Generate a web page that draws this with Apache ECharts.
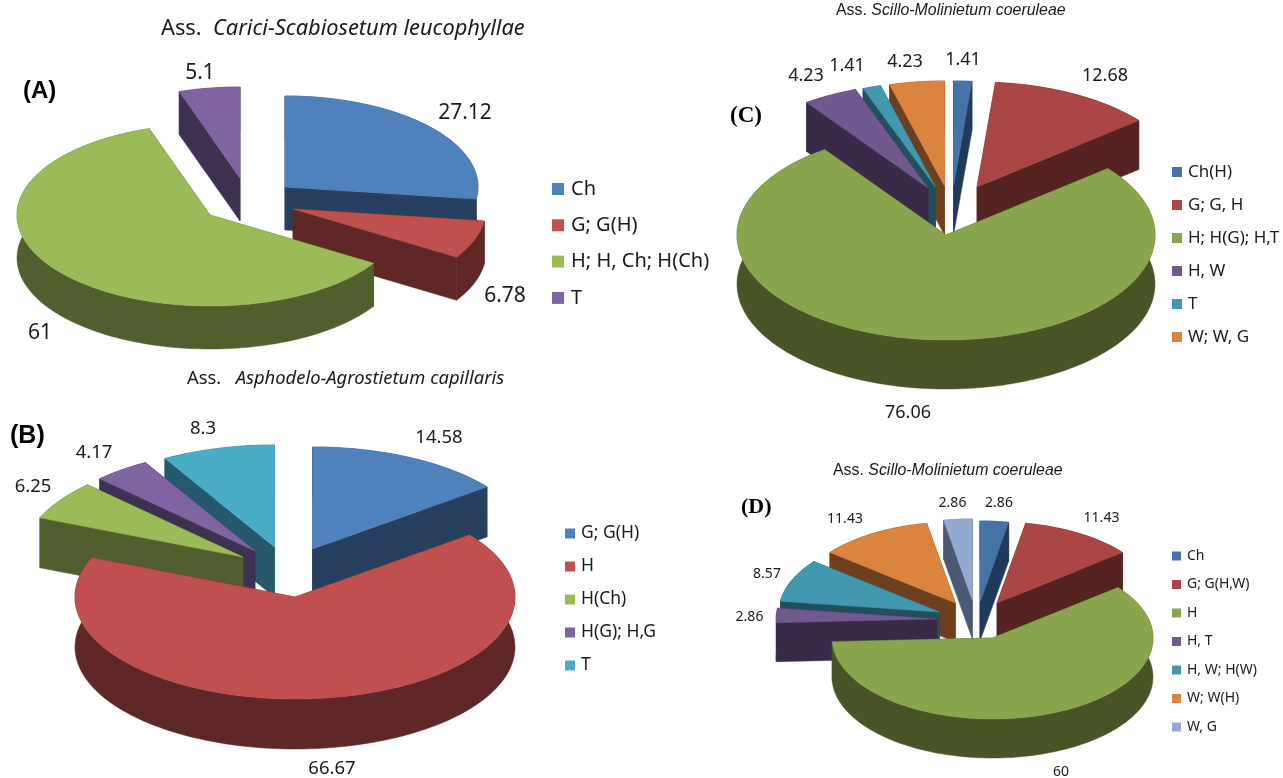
<!DOCTYPE html>
<html>
<head>
<meta charset="utf-8">
<style>html,body{margin:0;padding:0;background:#fff}#chart{width:1283px;height:778px}</style>
<script src="https://cdn.jsdelivr.net/npm/echarts@6/dist/echarts.min.js"></script>
</head>
<body>
<div id="chart"></div>
<script>
// Life-form spectra of four plant associations, drawn as extruded exploded pies.
const categoriesA = ['Ch', 'G; G(H)', 'H; H, Ch; H(Ch)', 'T'];
const valuesA = [27.12, 6.78, 61, 5.1];
const categoriesB = ['G; G(H)', 'H', 'H(Ch)', 'H(G); H,G', 'T'];
const valuesB = [14.58, 66.67, 6.25, 4.17, 8.3];
const categoriesC = ['Ch(H)', 'G; G, H', 'H; H(G); H,T', 'H, W', 'T', 'W; W, G'];
const valuesC = [1.41, 12.68, 76.06, 4.23, 1.41, 4.23];
const categoriesD = ['Ch', 'G; G(H,W)', 'H', 'H, T', 'H, W; H(W)', 'W; W(H)', 'W, G'];
const valuesD = [2.86, 11.43, 60, 2.86, 8.57, 11.43, 2.86];

const SANS = '"Noto Sans"';
const ARIAL = '"Liberation Sans"';
const SERIF = '"Liberation Serif"';

// Geometry and colours of each pie; "apex" is where every exploded wedge has its tip.
const pies = [
  {
    categories: categoriesA, values: valuesA,
    rx: 193, ry: 91, depth: 43,
    apex: [[285, 187], [293, 209], [210, 215], [240, 178]],
    order: [3, 0, 1, 2],
    top: ['#4F81BD', '#C0504D', '#9BBB59', '#8064A2'],
    side: ['#27405F', '#602727', '#505F2D', '#3F3152'],
    labelPos: [[465, 113], [505, 296], [40, 333], [200, 73]],
    labelFont: '21px ' + SANS,
    legend: { left: 552, top: 179, mark: 12, gap: 16.3, font: 20, textGap: 2 }
  },
  {
    categories: categoriesB, values: valuesB,
    rx: 220, ry: 102, depth: 50,
    apex: [[312.5, 549], [295, 597], [243, 557], [255, 551], [274.5, 547]],
    order: [4, 3, 2, 0, 1],
    top: ['#4F81BD', '#C0504D', '#9BBB59', '#8064A2', '#4BACC6'],
    side: ['#27405F', '#602727', '#505F2D', '#3F3152', '#25586A'],
    labelPos: [[439, 438], [332, 769], [33, 487], [94, 453], [203, 429]],
    labelFont: '18.5px ' + SANS,
    legend: { left: 565, top: 524.5, mark: 10, gap: 15, font: 17.5, textGap: 1 }
  },
  {
    categories: categoriesC, values: valuesC,
    rx: 209, ry: 105, depth: 49,
    apex: [[953.5, 186], [977, 187], [946, 235], [928, 188], [935.5, 187], [944.5, 186]],
    order: [5, 4, 3, 0, 1, 2],
    top: ['#4572A7', '#AA4643', '#89A54E', '#71588F', '#4198AF', '#DB843D'],
    side: ['#1F3A5C', '#552322', '#485326', '#3A2A4A', '#224F5C', '#6E3F1E'],
    labelPos: [[963, 60], [1105, 76], [908, 413], [806, 76], [847, 66], [905, 62]],
    labelFont: '18px ' + SANS,
    legend: { left: 1172, top: 163.5, mark: 10, gap: 16, font: 17, textGap: 1 }
  },
  {
    categories: categoriesD, values: valuesD,
    rx: 160.5, ry: 81, depth: 39,
    apex: [[980, 602], [997, 603], [992.5, 638], [936.6, 619], [939.5, 612], [955.4, 603], [972.3, 600]],
    order: [6, 5, 4, 3, 0, 1, 2],
    top: ['#4572A7', '#AA4643', '#89A54E', '#71588F', '#4198AF', '#DB843D', '#93A9CF'],
    side: ['#1F3A5C', '#552322', '#485326', '#3A2A4A', '#224F5C', '#6E3F1E', '#4A5A72'],
    labelPos: [[999, 503], [1101.5, 518], [1061, 772], [749.5, 617], [767, 574], [845, 519], [952.5, 503]],
    labelFont: '14px ' + SANS,
    legend: { left: 1172, top: 549, mark: 9, gap: 14.5, font: 14, textGap: 1 }
  }
];

// Point on the rim of an elliptical pie, angle in degrees clockwise from twelve o'clock.
function rimPoint(apex, pie, deg, drop) {
  const a = deg * Math.PI / 180;
  return [apex[0] + pie.rx * Math.sin(a), apex[1] - pie.ry * Math.cos(a) + drop];
}

function rimArc(apex, pie, from, to, drop) {
  const n = Math.max(2, Math.ceil((to - from) / 1.5));
  const pts = [];
  for (let i = 0; i <= n; i++) pts.push(rimPoint(apex, pie, from + (to - from) * i / n, drop));
  return pts;
}

function wedgeRender(pie, idx) {
  return function (params, api) {
    const value = api.value(0);
    const total = pie.values.reduce((s, v) => s + v, 0);
    const before = pie.values.slice(0, idx).reduce((s, v) => s + v, 0);
    const from = before / total * 360;
    const to = (before + value) / total * 360;
    const apex = pie.apex[idx];
    const d = pie.depth;
    const top = rimArc(apex, pie, from, to, 0);
    const low = rimArc(apex, pie, from, to, d);
    const wallStyle = { fill: pie.side[idx], stroke: pie.side[idx], lineWidth: 0.5 };
    const poly = (points, style) => ({ type: 'polygon', shape: { points }, style });
    const lowApex = [apex[0], apex[1] + d];
    const children = [
      poly([apex, top[0], low[0], lowApex], wallStyle),
      poly([apex, top[top.length - 1], low[low.length - 1], lowApex], wallStyle),
      poly(top.concat(low.slice().reverse()), wallStyle),
      poly([apex].concat(top), { fill: pie.top[idx], stroke: pie.top[idx], lineWidth: 0.5 }),
      {
        type: 'text',
        z2: 50,
        style: {
          text: String(value),
          x: pie.labelPos[idx][0],
          y: pie.labelPos[idx][1],
          align: 'center',
          verticalAlign: 'middle',
          font: pie.labelFont,
          fill: '#1a1a1a'
        }
      }
    ];
    return { type: 'group', children };
  };
}

const series = [];
const legends = [];
pies.forEach(pie => {
  pie.order.forEach(idx => {
    series.push({
      type: 'custom',
      name: pie.categories[idx],
      coordinateSystem: 'none',
      silent: true,
      renderItem: wedgeRender(pie, idx),
      data: [[pie.values[idx]]]
    });
  });
  legends.push({
    orient: 'vertical',
    left: pie.legend.left,
    top: pie.legend.top,
    icon: 'rect',
    itemWidth: pie.legend.mark,
    itemHeight: pie.legend.mark,
    itemGap: pie.legend.gap,
    selectedMode: false,
    padding: 0,
    textStyle: { fontFamily: SANS, fontSize: pie.legend.font, color: '#1a1a1a', padding: [0, 0, 0, pie.legend.textGap] },
    data: pie.categories.map((name, i) => ({ name, itemStyle: { color: pie.top[i] } }))
  });
});

function heading(prefix, name, x, y, size, family) {
  return {
    left: x, top: y, padding: 0,
    text: '{r|' + prefix + '}{i|' + name + '}',
    textStyle: {
      rich: {
        r: { fontFamily: family, fontSize: size, fontWeight: 'normal', color: '#1a1a1a' },
        i: { fontFamily: family, fontSize: size, fontWeight: 'normal', fontStyle: 'italic', color: '#1a1a1a' }
      }
    }
  };
}

function panelTag(text, x, y, size, family) {
  return {
    left: x, top: y, padding: 0, text,
    textStyle: { fontFamily: family, fontSize: size, fontWeight: 'bold', color: '#000' }
  };
}

const chart = echarts.init(document.getElementById('chart'));
chart.setOption({
  animation: false,
  backgroundColor: '#fff',
  title: [
    heading('Ass.  ', 'Carici-Scabiosetum leucophyllae', 161, 17.5, 21.8, SANS),
    heading('Ass.   ', 'Asphodelo-Agrostietum capillaris', 187, 370, 18.4, SANS),
    heading('Ass. ', 'Scillo-Molinietum coeruleae', 836, 3, 15.9, ARIAL),
    heading('Ass. ', 'Scillo-Molinietum coeruleae', 833, 462.5, 15.9, ARIAL),
    panelTag('(A)', 23, 79, 24, ARIAL),
    panelTag('(B)', 10, 424, 25, ARIAL),
    panelTag('(C)', 730, 105, 23, SERIF),
    panelTag('(D)', 741, 496, 22, SERIF)
  ],
  legend: legends,
  series
});
</script>
</body>
</html>
